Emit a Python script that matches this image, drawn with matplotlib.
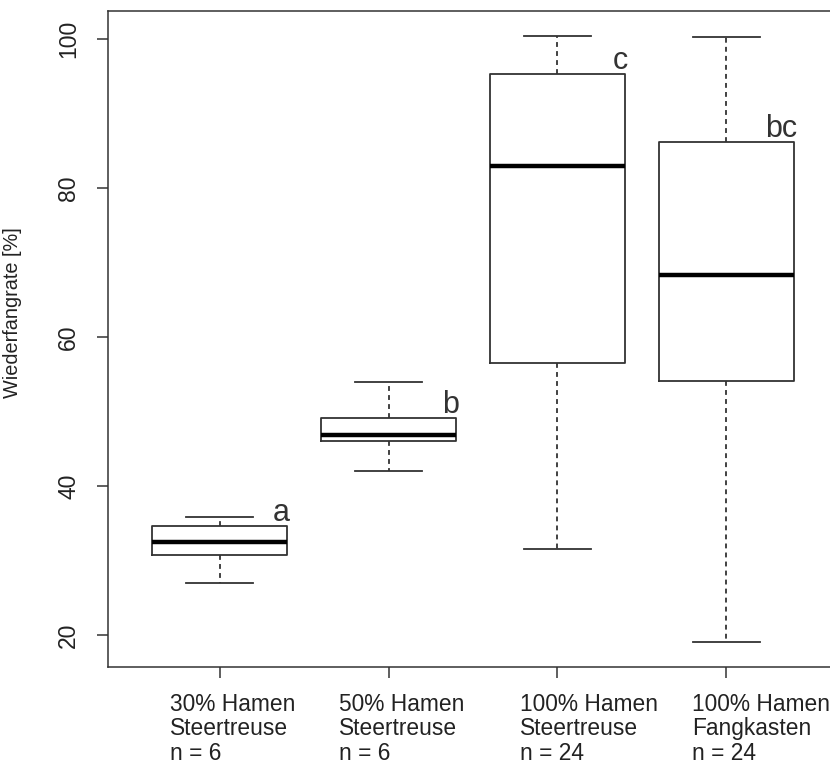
import numpy as np
import matplotlib
matplotlib.use("Agg")
import matplotlib.pyplot as plt

plt.rcParams["font.family"] = ["Liberation Sans", "DejaVu Sans"]
plt.rcParams["lines.scale_dashes"] = False

# boxplot statistics
gruppen = ["30% Hamen\nSteertreuse\nn = 6",
           "50% Hamen\nSteertreuse\nn = 6",
           "100% Hamen\nSteertreuse\nn = 24",
           "100% Hamen\nFangkasten\nn = 24"]
unten = [27.0, 42.0, 31.5, 19.1]
q1 = [30.8, 46.0, 56.5, 54.1]
median = [32.5, 46.8, 83.0, 68.3]
q3 = [34.6, 49.1, 95.3, 86.2]
oben = [35.9, 53.9, 100.4, 100.2]
buchstaben = ["a", "b", "c", "bc"]

linie = "#333333"

fig = plt.figure(figsize=(8.3, 7.69), dpi=100)
# right spine lies just past the picture edge, as in the original
ax = fig.add_axes([108 / 830, 1 - 667 / 769, 730 / 830, 656 / 769])

stats = []
for i in range(len(gruppen)):
    stats.append({"med": median[i], "q1": q1[i], "q3": q3[i],
                  "whislo": unten[i], "whishi": oben[i], "fliers": []})

pos = np.arange(1, len(gruppen) + 1)
ax.bxp(stats, positions=pos, widths=0.8, capwidths=0.4, showfliers=False,
       boxprops=dict(color=linie, linewidth=1.3),
       whiskerprops=dict(color=linie, linewidth=1.3, linestyle=(0, (3.5, 3))),
       capprops=dict(color=linie, linewidth=1.3),
       medianprops=dict(color="black", linewidth=3.2),
       manage_ticks=False)

for i in range(len(gruppen)):
    ax.annotate(buchstaben[i], xy=(pos[i] + 0.4, q3[i]), xytext=(2, 3.5),
                textcoords="offset points", ha="right", va="baseline",
                fontsize=22, color="#333333")

ax.set_xlim(0.34, 4.66)
ax.set_ylim(15.7, 103.75)

ax.set_xticks(pos)
ax.set_xticklabels([])
ax.set_yticks([20, 40, 60, 80, 100])
ax.tick_params(axis="both", length=7.9, width=1.1, color=linie,
               labelsize=16.5, labelcolor="#222222")
ax.tick_params(axis="y", pad=12)
for t in ax.get_yticklabels():
    t.set_rotation(90)
    t.set_va("center")

# category labels, left-aligned under the ticks
versatz = [36, 36, 27, 25]
for i in range(len(gruppen)):
    ax.annotate(gruppen[i], xy=(pos[i], 0), xycoords=("data", "axes fraction"),
                xytext=(-versatz[i], -18.5), textcoords="offset points",
                ha="left", va="top", fontsize=16.4, color="#222222",
                linespacing=1.1)

ax.set_ylabel("Wiederfangrate [%]", fontsize=14.3, color="#222222")
ax.yaxis.set_label_coords(-86 / 730, 0.54)

for s in ax.spines.values():
    s.set_color(linie)
    s.set_linewidth(1.1)

fig.savefig("out.png", dpi=100)
